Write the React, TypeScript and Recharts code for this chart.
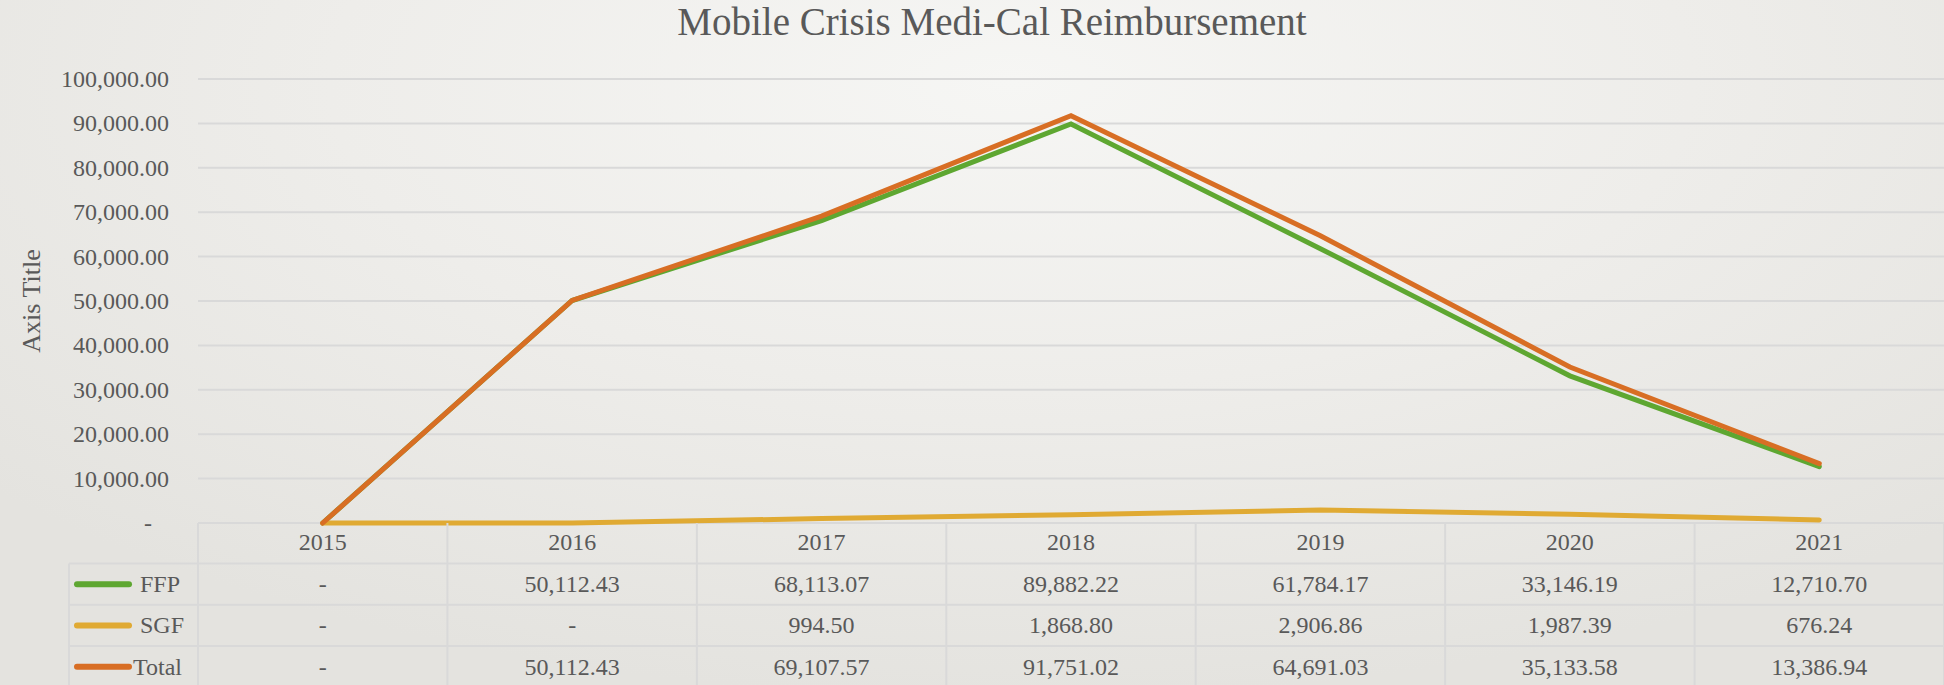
import React from 'react';
import { LineChart, Line, XAxis, YAxis, CartesianGrid } from 'recharts';

const years = ['2015', '2016', '2017', '2018', '2019', '2020', '2021'];
const ffp = [0, 50112.43, 68113.07, 89882.22, 61784.17, 33146.19, 12710.7];
const sgf = [0, 0, 994.5, 1868.8, 2906.86, 1987.39, 676.24];
const total = [0, 50112.43, 69107.57, 91751.02, 64691.03, 35133.58, 13386.94];
const yTicks = [0, 10000, 20000, 30000, 40000, 50000, 60000, 70000, 80000, 90000, 100000];

const series = [
  { key: 'ffp', name: 'FFP', values: ffp, color: '#5ea731' },
  { key: 'sgf', name: 'SGF', values: sgf, color: '#e0aa33' },
  { key: 'total', name: 'Total', values: total, color: '#d86e24' },
];

const chartData = years.map((y, i) => ({ idx: i, year: y, ffp: ffp[i], sgf: sgf[i], total: total[i] }));

const W = 1944;
const H = 685;
const PLOT_LEFT = 198;
const PLOT_TOP = 79;
const PLOT_BOTTOM = 523;
const COL_W = (W - PLOT_LEFT) / years.length;
const ROW_H = 41.3;
const TEXT = '#595959';
const GRID = '#d9d9d9';
const FONT = '"Liberation Serif", "Times New Roman", serif';

const fmt = (v: number) =>
  v === 0 ? '-' : v.toLocaleString('en-US', { minimumFractionDigits: 2, maximumFractionDigits: 2 });

const YTick = (props: any) => {
  const { x, y, payload } = props;
  const v = payload.value as number;
  return (
    <text x={v === 0 ? x - 17 : x} y={y} dy={8} textAnchor="end" fill={TEXT} fontSize={24} fontFamily={FONT}>
      {fmt(v)}
    </text>
  );
};

const DataTable = () => {
  const headTop = PLOT_BOTTOM;
  const rowsTop = headTop + 40.5;
  const lines: React.ReactNode[] = [];
  // vertical lines of the category columns
  for (let c = 0; c <= years.length; c++) {
    const x = PLOT_LEFT + c * COL_W;
    lines.push(<line key={'v' + c} x1={x} x2={x} y1={headTop} y2={H} stroke={GRID} strokeWidth={2} />);
  }
  lines.push(<line key="vl" x1={69} x2={69} y1={rowsTop} y2={H} stroke={GRID} strokeWidth={2} />);
  for (let r = 0; r < series.length; r++) {
    const y = rowsTop + r * ROW_H;
    lines.push(<line key={'h' + r} x1={69} x2={W} y1={y} y2={y} stroke={GRID} strokeWidth={2} />);
  }
  return (
    <svg width={W} height={H} style={{ position: 'absolute', left: 0, top: 0, pointerEvents: 'none' }}>
      {lines}
      {series.map((s, r) => {
        const cy = rowsTop + r * ROW_H + ROW_H / 2;
        return (
          <g key={s.key}>
            <line x1={77} x2={129} y1={cy} y2={cy} stroke={s.color} strokeWidth={6} strokeLinecap="round" />
            <text x={s.name === 'Total' ? 133 : 140} y={cy + 8} fill={TEXT} fontSize={24} fontFamily={FONT}>
              {s.name}
            </text>
            {s.values.map((v, c) => (
              <text
                key={c}
                x={PLOT_LEFT + (c + 0.5) * COL_W}
                y={cy + 8}
                textAnchor="middle"
                fill={TEXT}
                fontSize={24}
                fontFamily={FONT}
              >
                {fmt(v)}
              </text>
            ))}
          </g>
        );
      })}
    </svg>
  );
};

export default function App() {
  return (
    <div
      style={{
        position: 'absolute',
        left: 0,
        top: 0,
        width: W,
        height: H,
        overflow: 'hidden',
        background: 'radial-gradient(ellipse 70% 90% at 52% 12%, #f6f6f4 0%, #eeedea 50%, #e4e3df 100%)',
        fontFamily: FONT,
      }}
    >
      <div
        style={{
          position: 'absolute',
          left: 20,
          top: 0,
          width: W,
          textAlign: 'center',
          fontSize: 39,
          color: TEXT,
          lineHeight: '44px',
        }}
      >
        Mobile Crisis Medi-Cal Reimbursement
      </div>
      <LineChart
        width={W}
        height={H}
        data={chartData}
        margin={{ top: PLOT_TOP, right: 0, bottom: H - PLOT_BOTTOM - 40, left: 0 }}
        style={{ position: 'absolute', left: 0, top: 0 }}
      >
        <CartesianGrid vertical={false} stroke={GRID} strokeWidth={2} />
        <XAxis
          dataKey="idx"
          type="number"
          domain={[-0.5, years.length - 0.5]}
          ticks={years.map((_, i) => i)}
          tickFormatter={(i: number) => years[i]}
          axisLine={false}
          tickLine={false}
          tickSize={0}
          tickMargin={10}
          height={40}
          tick={{ fill: TEXT, fontSize: 24, fontFamily: FONT }}
        />
        <YAxis
          type="number"
          domain={[0, 100000]}
          ticks={yTicks}
          width={PLOT_LEFT}
          axisLine={false}
          tickLine={false}
          tickSize={0}
          tickMargin={29}
          tick={<YTick />}
          label={{
            content: (p: any) => {
              const vb = p.viewBox;
              const cx = 31;
              const cy = vb.y + vb.height / 2;
              return (
                <text
                  x={cx}
                  y={cy}
                  transform={`rotate(-90 ${cx} ${cy})`}
                  textAnchor="middle"
                  dominantBaseline="central"
                  fill={TEXT}
                  fontSize={26}
                  fontFamily={FONT}
                >
                  Axis Title
                </text>
              );
            },
          }}
        />
        {series.map((s) => (
          <Line
            key={s.key}
            dataKey={s.key}
            name={s.name}
            stroke={s.color}
            strokeWidth={5}
            strokeLinecap="round"
            dot={false}
            activeDot={false}
            isAnimationActive={false}
          />
        ))}
      </LineChart>
      <DataTable />
    </div>
  );
}
